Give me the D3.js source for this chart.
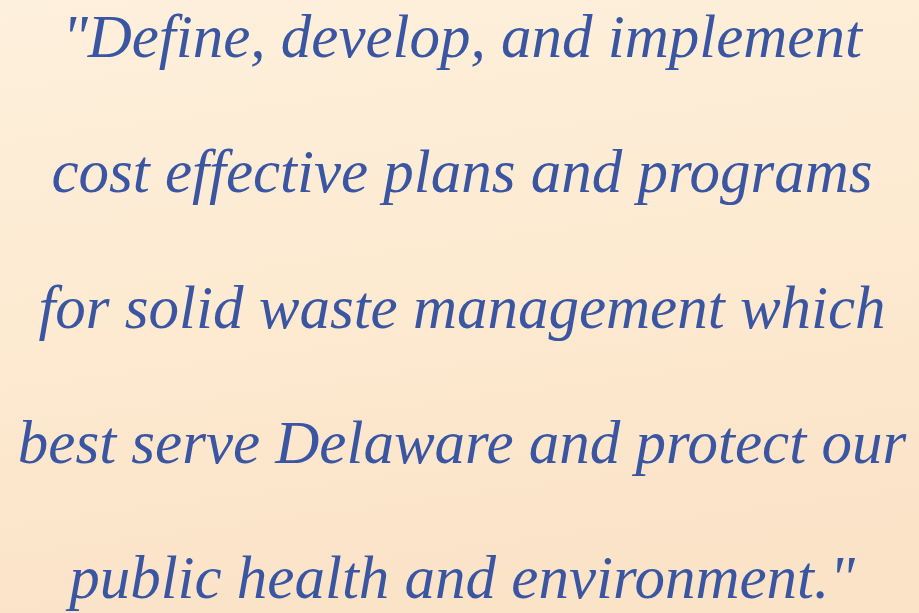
<!DOCTYPE html>
<html>
<head>
<meta charset="utf-8">
<script src="https://cdn.jsdelivr.net/npm/d3@7"></script>
<style>
  html, body { margin: 0; padding: 0; background: #fcebd3; }
  svg { display: block; }
</style>
</head>
<body>
<script>
// Text lines of the quote (content only)
const lines = [
  "\"Define, develop, and implement",
  "cost effective plans and programs",
  "for solid waste management which",
  "best serve Delaware and protect our",
  "public health and environment.\""
];
// Line order index used for vertical placement
const lineIndex = [0, 1, 2, 3, 4];

const W = 919, H = 613;
const svg = d3.select("body").append("svg").attr("width", W).attr("height", H);

const defs = svg.append("defs");
const grad = defs.append("linearGradient").attr("id", "bg")
  .attr("x1", 0).attr("y1", 0).attr("x2", 0.2).attr("y2", 1);
grad.append("stop").attr("offset", "0%").attr("stop-color", "#fdf0dc");
grad.append("stop").attr("offset", "55%").attr("stop-color", "#fdead1");
grad.append("stop").attr("offset", "100%").attr("stop-color", "#fbe3c8");
svg.append("rect").attr("width", W).attr("height", H).attr("fill", "url(#bg)");

const y = d3.scaleLinear().domain([0, 4]).range([57, 598]);

svg.append("g").selectAll("text")
  .data(lines)
  .join("text")
  .attr("x", 462)
  .attr("y", (d, i) => y(lineIndex[i]))
  .attr("text-anchor", "middle")
  .attr("font-family", "'Liberation Serif', 'DejaVu Serif', serif")
  .attr("font-style", "italic")
  .attr("font-size", 61)
  .attr("fill", "#3a56a2")
  .text(d => d);
</script>
</body>
</html>
